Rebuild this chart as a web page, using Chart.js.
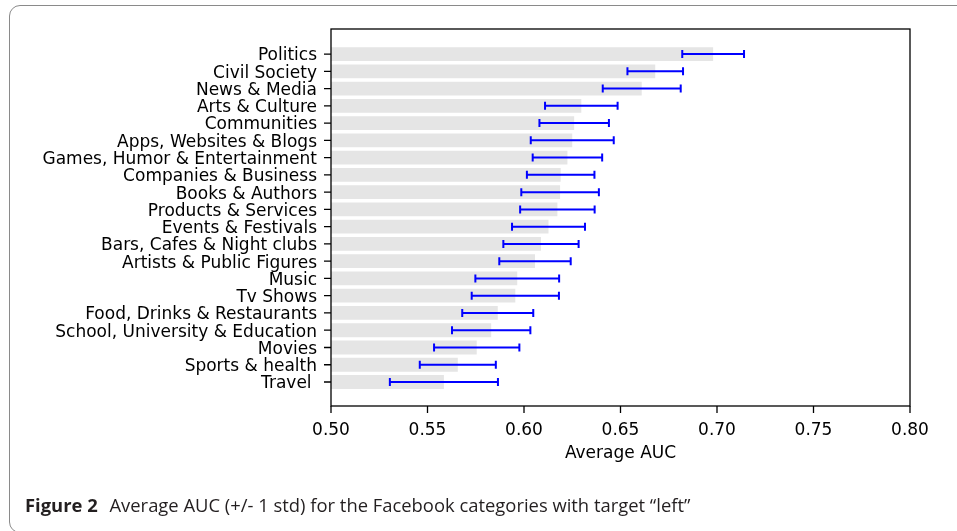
<!DOCTYPE html>
<html>
<head>
<meta charset="utf-8">
<script src="https://cdn.jsdelivr.net/npm/chart.js@4/dist/chart.umd.min.js"></script>
<style>
  html, body { margin: 0; padding: 0; background: #fff; overflow: hidden; }
  #wrap { position: relative; width: 957px; height: 531px; }
  #box { position: absolute; left: 9px; top: 5px; width: 1000px; height: 528px;
         border: 1.5px solid #8a8a8a; border-radius: 11px; box-sizing: border-box; }
  #cv { position: absolute; left: 0; top: 0; }
  #caption { position: absolute; left: 25px; top: 492px; font-family: "Open Sans", sans-serif;
             font-size: 18.4px; line-height: 25px; color: #231f20; white-space: nowrap; }
  #caption b { font-weight: 700; margin-right: 7px; }
</style>
</head>
<body>
<div id="wrap">
  <div id="box"></div>
  <canvas id="cv" width="957" height="531"></canvas>
  <div id="caption"><b>Figure 2</b> Average AUC (+/- 1 std) for the Facebook categories with target “left”</div>
</div>
<script>
const categories = ['Politics', 'Civil Society', 'News & Media', 'Arts & Culture', 'Communities',
  'Apps, Websites & Blogs', 'Games, Humor & Entertainment', 'Companies & Business', 'Books & Authors',
  'Products & Services', 'Events & Festivals', 'Bars, Cafes & Night clubs', 'Artists & Public Figures',
  'Music', 'Tv Shows', 'Food, Drinks & Restaurants', 'School, University & Education', 'Movies',
  'Sports & health', 'Travel ']
const meanAuc = [0.698, 0.668, 0.661, 0.6297, 0.626, 0.625, 0.6225, 0.619, 0.6187, 0.6173,
  0.6127, 0.6088, 0.6057, 0.5965, 0.5955, 0.5864, 0.583, 0.5755, 0.5657, 0.5585]
const stdAuc = [0.016, 0.0144, 0.0202, 0.0188, 0.018, 0.0215, 0.018, 0.0175, 0.0201, 0.0193,
  0.0189, 0.0195, 0.0185, 0.0217, 0.0226, 0.0184, 0.0203, 0.0221, 0.0197, 0.028]
const xTicks = [0.50, 0.55, 0.60, 0.65, 0.70, 0.75, 0.80]

const font = { family: 'DejaVu Sans', size: 17 }
const TICK = 7

// error bars, frame and outward tick marks like matplotlib
const errBars = {
  id: 'errBars',
  afterDatasetsDraw(chart) {
    const x = chart.scales.x, y = chart.scales.y, c = chart.ctx
    c.save()
    c.strokeStyle = '#0000ff'
    c.lineWidth = 2
    meanAuc.forEach((m, i) => {
      const py = y.getPixelForValue(i)
      const x1 = x.getPixelForValue(m - stdAuc[i])
      const x2 = x.getPixelForValue(m + stdAuc[i])
      c.beginPath()
      c.moveTo(x1, py); c.lineTo(x2, py)
      c.moveTo(x1, py - 4); c.lineTo(x1, py + 4)
      c.moveTo(x2, py - 4); c.lineTo(x2, py + 4)
      c.stroke()
    })
    c.restore()
  },
  afterDraw(chart) {
    const a = chart.chartArea, c = chart.ctx
    const x = chart.scales.x, y = chart.scales.y
    c.save()
    c.strokeStyle = '#000'
    c.lineWidth = 1.3
    c.strokeRect(a.left, a.top, a.right - a.left, a.bottom - a.top)
    c.beginPath()
    y.ticks.forEach(t => {
      const py = y.getPixelForValue(t.value)
      c.moveTo(a.left - TICK, py); c.lineTo(a.left, py)
    })
    x.ticks.forEach(t => {
      const px = x.getPixelForValue(t.value)
      c.moveTo(px, a.bottom); c.lineTo(px, a.bottom + TICK)
    })
    c.stroke()
    c.restore()
  }
}

new Chart(document.getElementById('cv'), {
  type: 'bar',
  data: {
    datasets: [{
      data: meanAuc.map((m, i) => ({ x: m, y: i })),
      backgroundColor: 'rgb(229,229,229)',
      borderWidth: 0,
      barPercentage: 0.8,
      categoryPercentage: 1
    }]
  },
  options: {
    indexAxis: 'y',
    responsive: false,
    animation: false,
    events: [],
    layout: { padding: { top: 29, right: 47, left: 0, bottom: 67 } },
    plugins: { legend: { display: false }, tooltip: { enabled: false } },
    scales: {
      x: {
        type: 'linear',
        min: 0.5, max: 0.8,
        afterBuildTicks: s => { s.ticks = xTicks.map(v => ({ value: v })) },
        afterFit: s => { s.height = 58 },
        grid: { display: false, tickLength: TICK },
        border: { display: false },
        ticks: { color: '#000', font, padding: 7, callback: v => v.toFixed(2), maxRotation: 0 },
        title: { display: true, text: 'Average AUC', color: '#000', font, padding: { top: 0, bottom: 0 } }
      },
      y: {
        type: 'linear',
        reverse: true,
        offset: false,
        min: -1.45, max: 20.39,
        afterBuildTicks: s => { s.ticks = categories.map((_, i) => ({ value: i })) },
        afterFit: s => { s.width = 331 },
        grid: { display: false, tickLength: TICK },
        border: { display: false },
        ticks: { color: '#000', font, padding: 7, labelOffset: 2, autoSkip: false, callback: v => categories[v] }
      }
    }
  },
  plugins: [errBars]
})
</script>
</body>
</html>
